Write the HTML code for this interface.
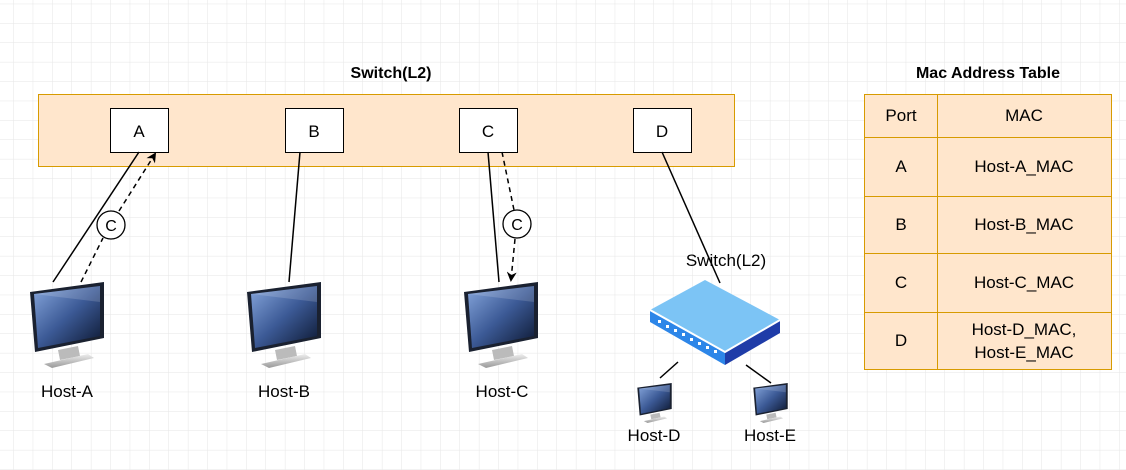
<!DOCTYPE html>
<html><head><meta charset="utf-8"><style>
html,body{margin:0;padding:0;background:#fff;}
svg{display:block;font-family:"Liberation Sans",Arial,sans-serif;}
</style></head><body>
<svg width="1126" height="470" viewBox="0 0 1126 470" xmlns="http://www.w3.org/2000/svg">
<defs>
<pattern id="grid" x="13.3" y="3.7" width="19.4" height="19.4" patternUnits="userSpaceOnUse">
<path d="M0 0H19.4M0 0V19.4" stroke="#e6e6e6" stroke-width="1" fill="none"/>
</pattern>
<linearGradient id="scr" x1="0" y1="0" x2="1" y2="1">
<stop offset="0" stop-color="#86a6dc"/><stop offset="0.5" stop-color="#3c5a96"/><stop offset="1" stop-color="#0c1730"/>
</linearGradient>
<linearGradient id="std" x1="0" y1="0" x2="0" y2="1">
<stop offset="0" stop-color="#eee"/><stop offset="1" stop-color="#999"/>
</linearGradient>
<symbol id="mon" viewBox="0 0 74 86">
<path d="M0 10 L74 0 L74 56 L5 70 Z" fill="#1a2130"/>
<path d="M4 12 L70 4 L70 54 L8 66 Z" fill="url(#scr)"/>
<path d="M4 12 L70 4 L70 20 Z" fill="#fff" opacity="0.15"/>
<path d="M28 68 L48 64 L50 74 L30 78 Z" fill="#bbb"/>
<path d="M14 82 L58 72 L64 76 L22 86 Z" fill="url(#std)"/>
</symbol>
<marker id="ar" markerWidth="10" markerHeight="10" refX="8" refY="5" orient="auto" markerUnits="userSpaceOnUse">
<path d="M0 0 L10 5 L0 10 L3 5 Z" fill="#000"/>
</marker>
</defs>
<rect width="1126" height="470" fill="url(#grid)"/>

<text x="391" y="78" text-anchor="middle" font-size="16" font-weight="bold">Switch(L2)</text>
<rect x="38.5" y="94.5" width="696" height="72" fill="#ffe6cc" stroke="#d79b00"/>
<g fill="#fff" stroke="#000">
<rect x="110.5" y="108.5" width="58" height="44"/>
<rect x="285.5" y="108.5" width="58" height="44"/>
<rect x="459.5" y="108.5" width="58" height="44"/>
<rect x="633.5" y="108.5" width="58" height="44"/>
</g>
<g font-size="17" text-anchor="middle">
<text x="139" y="137">A</text><text x="314" y="137">B</text><text x="488" y="137">C</text><text x="662" y="137">D</text>
</g>

<g stroke="#000" stroke-width="1.5" fill="none">
<line x1="139" y1="152" x2="53" y2="282"/>
<line x1="81" y1="282" x2="103" y2="238" stroke-dasharray="5,4"/>
<line x1="119" y1="211" x2="155" y2="154" stroke-dasharray="5,4" marker-end="url(#ar)"/>
<line x1="300" y1="152" x2="289" y2="282"/>
<line x1="488" y1="152" x2="499" y2="282"/>
<line x1="502" y1="152" x2="514" y2="210" stroke-dasharray="5,4"/>
<line x1="515" y1="239" x2="511" y2="280" stroke-dasharray="5,4" marker-end="url(#ar)"/>
<line x1="662" y1="152" x2="720" y2="283"/>
<line x1="678" y1="362" x2="660" y2="378"/>
<line x1="746" y1="365" x2="771" y2="383"/>
</g>
<g fill="#fff" stroke="#000" stroke-width="1.3">
<circle cx="111" cy="225" r="14"/><circle cx="517" cy="224" r="14"/>
</g>
<g font-size="16" text-anchor="middle">
<text x="111" y="231">C</text><text x="517" y="230">C</text>
</g>

<use href="#mon" x="30" y="282" width="74" height="86"/>
<use href="#mon" x="247" y="282" width="74" height="86"/>
<use href="#mon" x="464" y="282" width="74" height="86"/>
<use href="#mon" x="636" y="383" width="37" height="40"/>
<use href="#mon" x="752" y="383" width="37" height="40"/>

<path d="M650 310 L705 280 L780 320 L725 352 Z" fill="#7cc4f5"/>
<path d="M650 310 L725 352 L725 365 L650 322 Z" fill="#2d86e8"/>
<path d="M725 352 L780 320 L780 333 L725 365 Z" fill="#1f3ca8"/>
<path d="M650 310 L725 352 L780 320" stroke="#fff" stroke-width="2" fill="none"/>
<g fill="#fff">
<rect x="658" y="320" width="3" height="3"/><rect x="666" y="325" width="3" height="3"/><rect x="674" y="329" width="3" height="3"/><rect x="682" y="333" width="3" height="3"/><rect x="690" y="338" width="3" height="3"/><rect x="698" y="342" width="3" height="3"/><rect x="706" y="346" width="3" height="3"/><rect x="714" y="350" width="3" height="3"/>
</g>

<g font-size="17" text-anchor="middle">
<text x="726" y="266">Switch(L2)</text>
<text x="67" y="397">Host-A</text>
<text x="284" y="397">Host-B</text>
<text x="502" y="397">Host-C</text>
<text x="654" y="441">Host-D</text>
<text x="770" y="441">Host-E</text>
</g>

<text x="988" y="78" text-anchor="middle" font-size="16" font-weight="bold">Mac Address Table</text>
<rect x="864.5" y="94.5" width="247" height="275" fill="#ffe6cc" stroke="#d79b00"/>
<g stroke="#d79b00">
<line x1="937.5" y1="94" x2="937.5" y2="369"/>
<line x1="864" y1="137.5" x2="1111" y2="137.5"/>
<line x1="864" y1="196.5" x2="1111" y2="196.5"/>
<line x1="864" y1="253.5" x2="1111" y2="253.5"/>
<line x1="864" y1="312.5" x2="1111" y2="312.5"/>
</g>
<g font-size="17" text-anchor="middle">
<text x="901" y="121">Port</text><text x="1024" y="121">MAC</text>
<text x="901" y="172">A</text><text x="1024" y="172">Host-A_MAC</text>
<text x="901" y="230">B</text><text x="1024" y="230">Host-B_MAC</text>
<text x="901" y="288">C</text><text x="1024" y="288">Host-C_MAC</text>
<text x="901" y="346">D</text><text x="1024" y="335">Host-D_MAC,</text><text x="1024" y="358">Host-E_MAC</text>
</g>
</svg>
</body></html>
